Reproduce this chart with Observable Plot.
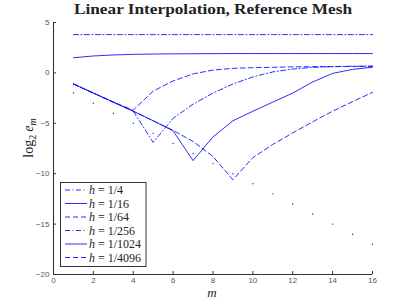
<!DOCTYPE html>
<html><head><meta charset="utf-8">
<script src="https://cdn.jsdelivr.net/npm/d3@7"></script>
<script src="https://cdn.jsdelivr.net/npm/@observablehq/plot@0.6"></script>
<style>html,body{margin:0;padding:0;background:#fff;} svg{display:block;}</style>
</head><body><div id="chart"></div>
<script>
const title = "Linear Interpolation, Reference Mesh";
const mVals = [1,2,3,4,5,6,7,8,9,10,11,12,13,14,15,16];
const xTicks = [0,2,4,6,8,10,12,14,16];
const yTicks = [-20,-15,-10,-5,0,5];
const labels = ["1/4","1/16","1/64","1/256","1/1024","1/4096"];
const h4    = [3.8,3.8,3.8,3.8,3.8,3.8,3.8,3.8,3.8,3.8,3.8,3.8,3.8,3.8,3.8,3.8];
const h16   = [1.5,1.68,1.78,1.84,1.87,1.89,1.9,1.91,1.92,1.92,1.92,1.92,1.92,1.92,1.92,1.92];
const h64   = [-1.1,-2.0,-2.9,-3.7,-1.8,-0.8,-0.1,0.28,0.45,0.52,0.56,0.6,0.62,0.63,0.64,0.65];
const h256  = [-1.1,-2.0,-2.9,-3.8,-6.9,-4.5,-3.1,-2.0,-1.1,-0.4,0.1,0.38,0.55,0.62,0.66,0.68];
const h1024 = [-1.1,-2.0,-2.9,-3.8,-4.75,-5.75,-8.7,-6.35,-4.75,-3.8,-2.9,-2.0,-0.9,-0.05,0.35,0.56];
const h4096 = [-1.1,-2.0,-2.9,-3.8,-4.75,-5.7,-6.8,-8.3,-10.6,-8.4,-7.1,-5.95,-4.85,-3.8,-2.85,-1.93];
const refDots = [-2,-3,-4,-5,-6,-7,-8,-9,-10,-11,-12,-13,-14,-15,-16,-17];

const DASHDOT = "5,2.5,1,2.5", DASHED = "5,3", SOLID = null;
const styles = [DASHDOT, SOLID, DASHED, DASHDOT, SOLID, DASHED];
const allVals = [h4,h16,h64,h256,h1024,h4096];
const blue = "#1414ff";

const W = 411, H = 308, mL = 53, mR = 39, mT = 22, mB = 34;
const fw = W - mL - mR, fh = H - mT - mB;

const lineMarks = allVals.map((vals, k) => {
  const rows = mVals.map((m, i) => ({m, e: vals[i]}));
  return Plot.line(rows, {x: "m", y: "e", stroke: blue, strokeWidth: 0.9,
    strokeDasharray: styles[k] ?? undefined});
});
const dotRows = mVals.map((m, i) => ({m, e: refDots[i]}));

const chart = Plot.plot({
  width: W, height: H, marginLeft: mL, marginRight: mR, marginTop: mT, marginBottom: mB,
  style: {fontFamily: "'Liberation Sans', Arial, sans-serif", fontSize: "8px", color: "#555"},
  x: {domain: [0, 16]},
  y: {domain: [-20, 5]},
  marks: [
    Plot.axisX({ticks: xTicks, tickSize: 0, tickPadding: 3, label: null, fill: "#555"}),
    Plot.axisY({ticks: yTicks, tickSize: 0, tickPadding: 4, label: null, fill: "#555"}),
    Plot.tickX(xTicks, {x: d => d, insetTop: fh - 3, stroke: "#333", strokeWidth: 1}),
    Plot.tickY(yTicks, {y: d => d, insetRight: fw - 3, stroke: "#333", strokeWidth: 1}),
    Plot.ruleX([0], {stroke: "#333", strokeWidth: 1.1}),
    Plot.ruleY([-20], {stroke: "#333", strokeWidth: 1.1}),
    ...lineMarks,
    Plot.dot(dotRows, {x: "m", y: "e", r: 0.7, fill: blue, stroke: null})
  ]
});
document.getElementById("chart").appendChild(chart);

const svg = d3.select(chart);
// title
svg.append("text").attr("x", 213).attr("y", 14).attr("text-anchor", "middle")
  .attr("font-family", "'Liberation Serif', 'DejaVu Serif', serif").attr("font-weight", "bold")
  .attr("font-size", 14).attr("fill", "#222")
  .attr("textLength", 278).attr("lengthAdjust", "spacingAndGlyphs").text(title);
// x label
svg.append("text").attr("x", 212).attr("y", 297).attr("text-anchor", "middle")
  .attr("font-family", "'Liberation Serif', serif").attr("font-style", "italic")
  .attr("font-size", 13).attr("fill", "#222").text("m");
// y label
const yl = svg.append("text").attr("transform", "translate(33,138) rotate(-90)")
  .attr("text-anchor", "middle").attr("font-family", "'Liberation Serif', serif")
  .attr("font-size", 14).attr("fill", "#222");
yl.append("tspan").text("log");
yl.append("tspan").attr("font-size", 10).attr("dy", 3).text("2");
yl.append("tspan").attr("dy", -3).attr("dx", 3).attr("font-style", "italic").text("e");
yl.append("tspan").attr("font-size", 10).attr("dy", 3).attr("font-style", "italic").text("m");

// legend
const lg = svg.append("g").attr("text-anchor", "start");
lg.append("rect").attr("x", 60.5).attr("y", 182.5).attr("width", 85.5).attr("height", 84)
  .attr("fill", "#fff").attr("stroke", "#333").attr("stroke-width", 1);
labels.forEach((lab, k) => {
  const y = 190 + k * 13.5;
  lg.append("line").attr("x1", 65).attr("x2", 87).attr("y1", y).attr("y2", y)
    .attr("stroke", blue).attr("stroke-width", 0.9)
    .attr("stroke-dasharray", styles[k] ?? null);
  const t = lg.append("text").attr("x", 89).attr("y", y + 4).attr("text-anchor", "start")
    .attr("font-family", "'Liberation Serif', serif").attr("font-size", 12).attr("fill", "#222");
  t.append("tspan").attr("font-style", "italic").text("h");
  t.append("tspan").attr("dx", 3).text("=");
  t.append("tspan").attr("dx", 3).text(lab);
});
</script></body></html>
